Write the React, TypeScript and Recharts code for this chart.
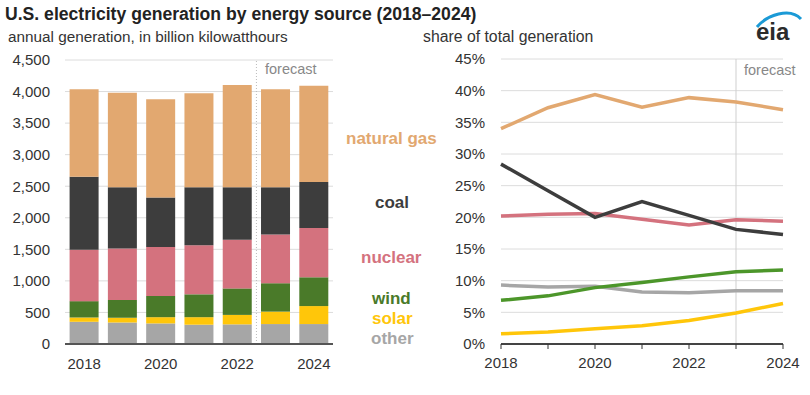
import { Bar, BarChart, CartesianGrid, Line, LineChart, ReferenceLine, XAxis, YAxis } from "recharts";

const years = ["2018", "2019", "2020", "2021", "2022", "2023", "2024"];

// billion kWh
const otherGen = [352, 342, 326, 306, 311, 316, 316];
const solarGen = [68, 72, 99, 119, 150, 197, 285];
const windGen = [259, 285, 336, 362, 420, 450, 456];
const nuclearGen = [813, 814, 777, 777, 771, 772, 782];
const coalGen = [1159, 970, 782, 919, 831, 748, 728];
const gasGen = [1385, 1499, 1557, 1489, 1621, 1553, 1526];

// share of total, percent
const gasShare = [34.0, 37.3, 39.4, 37.4, 38.9, 38.2, 37.0];
const coalShare = [28.4, 24.2, 20.0, 22.5, 20.3, 18.1, 17.3];
const nuclearShare = [20.2, 20.5, 20.6, 19.7, 18.8, 19.6, 19.4];
const windShare = [6.9, 7.6, 8.9, 9.7, 10.6, 11.4, 11.7];
const otherShare = [9.3, 9.0, 9.1, 8.2, 8.1, 8.4, 8.4];
const solarShare = [1.6, 1.9, 2.4, 2.9, 3.7, 4.9, 6.4];

const genTicks = [0, 500, 1000, 1500, 2000, 2500, 3000, 3500, 4000, 4500];
const shareTicks = [0, 5, 10, 15, 20, 25, 30, 35, 40, 45];

const colors = {
  gas: "#e2a870",
  coal: "#3d3d3d",
  nuclear: "#d4727e",
  wind: "#4a7a29",
  windLine: "#4c962a",
  solar: "#ffc60a",
  other: "#a6a6a6",
};

const font = "'Liberation Sans', Arial, sans-serif";

const genData = years.map((year, i) => ({
  year,
  idx: i,
  other: otherGen[i],
  solar: solarGen[i],
  wind: windGen[i],
  nuclear: nuclearGen[i],
  coal: coalGen[i],
  gas: gasGen[i],
}));

const shareData = years.map((year, i) => ({
  year,
  gas: gasShare[i],
  coal: coalShare[i],
  nuclear: nuclearShare[i],
  wind: windShare[i],
  other: otherShare[i],
  solar: solarShare[i],
}));

const tickStyle = { fill: "#333", fontSize: 15, fontFamily: font };
const everyOther = (v: string, i: number) => (i % 2 === 0 ? v : "");

const legend = [
  { label: "natural gas", color: colors.gas, left: 346, top: 138 },
  { label: "coal", color: colors.coal, left: 375, top: 202 },
  { label: "nuclear", color: colors.nuclear, left: 361, top: 257 },
  { label: "wind", color: colors.wind, left: 372, top: 298 },
  { label: "solar", color: colors.solar, left: 372, top: 318 },
  { label: "other", color: colors.other, left: 371, top: 338 },
];

function Text({ left, top, size, color, bold, children }: any) {
  return (
    <div
      style={{
        position: "absolute",
        left,
        top: top - size / 2,
        fontSize: size,
        lineHeight: `${size}px`,
        color,
        fontWeight: bold ? 700 : 400,
        fontFamily: font,
        whiteSpace: "nowrap",
      }}
    >
      {children}
    </div>
  );
}

export default function App() {
  return (
    <div style={{ position: "absolute", left: 0, top: 0, width: 810, height: 395, background: "#fff" }}>
      <Text left={5} top={15} size={17.6} color="#222" bold>
        U.S. electricity generation by energy source (2018–2024)
      </Text>
      <Text left={8} top={37} size={15.3} color="#333">
        annual generation, in billion kilowatthours
      </Text>
      <Text left={423} top={37} size={15.8} color="#333">
        share of total generation
      </Text>

      <div style={{ position: "absolute", left: 0, top: 0 }}>
        <BarChart
          width={340}
          height={395}
          data={genData}
          margin={{ top: 60, right: 7, left: 0, bottom: 21 }}
          barCategoryGap="12%"
        >
          <CartesianGrid vertical={false} stroke="#dcdcdc" />
          <XAxis
            dataKey="year"
            height={30}
            interval={0}
            tickFormatter={everyOther}
            tickLine={false}
            axisLine={{ stroke: "#555", strokeWidth: 2 }}
            tick={tickStyle}
            tickMargin={8}
          />
          <XAxis xAxisId="num" type="number" dataKey="idx" domain={[0, 7]} hide />
          <YAxis
            width={65}
            domain={[0, 4500]}
            ticks={genTicks}
            tickFormatter={(v: number) => v.toLocaleString("en-US")}
            axisLine={false}
            tickLine={false}
            tickMargin={9}
            tick={tickStyle}
          />
          <Bar dataKey="other" stackId="a" fill={colors.other} isAnimationActive={false} />
          <Bar dataKey="solar" stackId="a" fill={colors.solar} isAnimationActive={false} />
          <Bar dataKey="wind" stackId="a" fill={colors.wind} isAnimationActive={false} />
          <Bar dataKey="nuclear" stackId="a" fill={colors.nuclear} isAnimationActive={false} />
          <Bar dataKey="coal" stackId="a" fill={colors.coal} isAnimationActive={false} />
          <Bar dataKey="gas" stackId="a" fill={colors.gas} isAnimationActive={false} />
          <ReferenceLine xAxisId="num" x={5} stroke="#bbb" strokeDasharray="1 2" />
        </BarChart>
      </div>

      <div style={{ position: "absolute", left: 400, top: 0 }}>
        <LineChart width={410} height={395} data={shareData} margin={{ top: 59, right: 27, left: 0, bottom: 21 }}>
          <CartesianGrid vertical={false} stroke="#dcdcdc" />
          <XAxis
            dataKey="year"
            height={30}
            interval={0}
            tickFormatter={everyOther}
            tickLine={{ stroke: "#333" }}
            tickSize={5}
            axisLine={{ stroke: "#444", strokeWidth: 2 }}
            tick={tickStyle}
            tickMargin={8}
          />
          <YAxis
            width={101}
            domain={[0, 45]}
            ticks={shareTicks}
            tickFormatter={(v: number) => `${v}%`}
            axisLine={false}
            tickLine={false}
            tickMargin={10}
            tick={tickStyle}
          />
          <ReferenceLine x="2023" stroke="#cfcfcf" />
          <Line dataKey="gas" stroke={colors.gas} strokeWidth={3.5} dot={false} isAnimationActive={false} />
          <Line dataKey="nuclear" stroke={colors.nuclear} strokeWidth={3.5} dot={false} isAnimationActive={false} />
          <Line dataKey="other" stroke={colors.other} strokeWidth={3.5} dot={false} isAnimationActive={false} />
          <Line dataKey="wind" stroke={colors.windLine} strokeWidth={3.5} dot={false} isAnimationActive={false} />
          <Line dataKey="solar" stroke={colors.solar} strokeWidth={3.5} dot={false} isAnimationActive={false} />
          <Line dataKey="coal" stroke={colors.coal} strokeWidth={3.5} dot={false} isAnimationActive={false} />
        </LineChart>
      </div>

      <Text left={265} top={69} size={14.5} color="#888">
        forecast
      </Text>
      <Text left={744} top={70} size={14.5} color="#888">
        forecast
      </Text>

      {legend.map((l) => (
        <Text key={l.label} left={l.left} top={l.top} size={17} color={l.color} bold>
          {l.label}
        </Text>
      ))}

      <svg style={{ position: "absolute", left: 0, top: 0 }} width={810} height={60}>
        <path d="M 757 27 C 767 15, 790 7, 801 19" fill="none" stroke="#1b9ad6" strokeWidth={3} />
        <text x={756} y={40} fontSize={24} fontWeight={700} fill="#2b2b2b" fontFamily={font}>
          eia
        </text>
      </svg>
    </div>
  );
}
